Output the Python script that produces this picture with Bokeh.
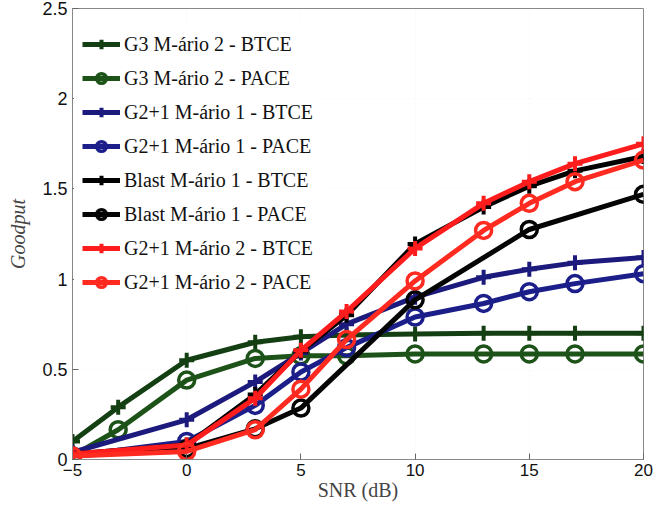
from bokeh.plotting import figure
from bokeh.models import FixedTicker, Range1d
from bokeh.embed import file_html
from bokeh.resources import INLINE

# ---- data ----
snr_g3 = [-5, -3, 0, 3, 5, 7, 10, 13, 15, 17, 20]
g3_btce = [0.10, 0.29, 0.55, 0.65, 0.68, 0.69, 0.695, 0.70, 0.70, 0.70, 0.70]
g3_pace = [0.02, 0.165, 0.44, 0.56, 0.575, 0.575, 0.585, 0.585, 0.585, 0.585, 0.585]

snr_g21 = [-5, 0, 3, 5, 7, 10, 13, 15, 17, 20]
g21m1_btce = [0.04, 0.22, 0.43, 0.59, 0.75, 0.90, 1.01, 1.055, 1.09, 1.12]
g21m1_pace = [0.02, 0.10, 0.30, 0.485, 0.62, 0.79, 0.865, 0.93, 0.975, 1.03]

snr_blast_btce = [-5, 0, 3, 5, 7, 10, 13, 15, 17, 20]
blast_btce = [0.03, 0.08, 0.36, 0.60, 0.80, 1.195, 1.40, 1.515, 1.60, 1.68]
snr_blast_pace = [-5, 0, 3, 5, 10, 15, 20]
blast_pace = [0.02, 0.06, 0.17, 0.285, 0.885, 1.275, 1.47]

g21m2_btce = [0.03, 0.08, 0.34, 0.605, 0.82, 1.17, 1.42, 1.54, 1.64, 1.75]
g21m2_pace = [0.02, 0.045, 0.165, 0.39, 0.665, 0.99, 1.27, 1.42, 1.54, 1.66]

x_ticks = [-5, 0, 5, 10, 15, 20]
y_ticks = [0, 0.5, 1, 1.5, 2, 2.5]

series = [
    ("G3 M-ário 2 - BTCE", snr_g3, g3_btce, "#133f13", "cross"),
    ("G3 M-ário 2 - PACE", snr_g3, g3_pace, "#1d5219", "circle"),
    ("G2+1 M-ário 1 - BTCE", snr_g21, g21m1_btce, "#1c1a7c", "cross"),
    ("G2+1 M-ário 1 - PACE", snr_g21, g21m1_pace, "#1c1f8a", "circle"),
    ("Blast M-ário 1 - BTCE", snr_blast_btce, blast_btce, "#000000", "cross"),
    ("Blast M-ário 1 - PACE", snr_blast_pace, blast_pace, "#050505", "circle"),
    ("G2+1 M-ário 2 - BTCE", snr_g21, g21m2_btce, "#ff1c1c", "cross"),
    ("G2+1 M-ário 2 - PACE", snr_g21, g21m2_pace, "#ff2a20", "circle"),
]

p = figure(width=655, height=503, output_backend="svg", toolbar_location=None,
           x_range=Range1d(-5, 20), y_range=Range1d(0, 2.5),
           min_border_left=72, min_border_right=12, min_border_top=8,
           min_border_bottom=40)
p.outline_line_color = "#888888"
p.outline_line_width = 1

for label, xs, ys, color, marker in series:
    p.line(xs, ys, line_color=color, line_width=5, legend_label=label)
    if marker == "cross":
        p.scatter(xs, ys, marker="cross", size=15, line_color=color,
                  line_width=4, legend_label=label)
    else:
        p.scatter(xs, ys, marker="circle", size=16, line_color=color,
                  fill_alpha=0, line_width=3.5, legend_label=label)

for ax in (p.xaxis[0], p.yaxis[0]):
    ax.axis_line_color = "#888888"
    ax.major_tick_line_color = "#666666"
    ax.major_tick_in = 6
    ax.major_tick_out = 0
    ax.minor_tick_line_color = None
    ax.major_label_text_font = "Liberation Sans"
    ax.major_label_text_color = "#111111"

p.xaxis[0].major_label_text_font_size = "17px"
p.yaxis[0].major_label_text_font_size = "18px"
p.xaxis[0].ticker = FixedTicker(ticks=x_ticks)
p.yaxis[0].ticker = FixedTicker(ticks=y_ticks)
p.xaxis[0].major_label_standoff = 4
p.yaxis[0].major_label_standoff = 5

p.xaxis[0].axis_label = "SNR (dB)"
p.xaxis[0].axis_label_text_font = "Liberation Serif"
p.xaxis[0].axis_label_text_font_style = "normal"
p.xaxis[0].axis_label_text_font_size = "20px"
p.xaxis[0].axis_label_standoff = 0

p.yaxis[0].axis_label = "Goodput"
p.yaxis[0].axis_label_text_font = "Liberation Serif"
p.yaxis[0].axis_label_text_font_style = "italic"
p.yaxis[0].axis_label_text_font_size = "20px"
p.yaxis[0].axis_label_standoff = 10

p.xgrid.grid_line_color = "#cccccc"
p.xgrid.grid_line_alpha = 0.25
p.xgrid.grid_line_dash = "1 3"
p.ygrid.grid_line_color = "#cccccc"
p.ygrid.grid_line_alpha = 0.25
p.ygrid.grid_line_dash = "1 3"
p.xgrid.ticker = FixedTicker(ticks=x_ticks)
p.ygrid.ticker = FixedTicker(ticks=y_ticks)

lg = p.legend[0]
lg.location = (2, 157)
lg.margin = 0
lg.padding = 8
lg.spacing = 10
lg.glyph_width = 38
lg.glyph_height = 24
lg.label_height = 24
lg.label_standoff = 4
lg.label_text_font = "Liberation Serif"
lg.label_text_font_size = "20px"
lg.label_text_color = "#111111"
lg.border_line_alpha = 0
lg.background_fill_alpha = 1

open("out.html", "w").write(file_html(p, INLINE))
